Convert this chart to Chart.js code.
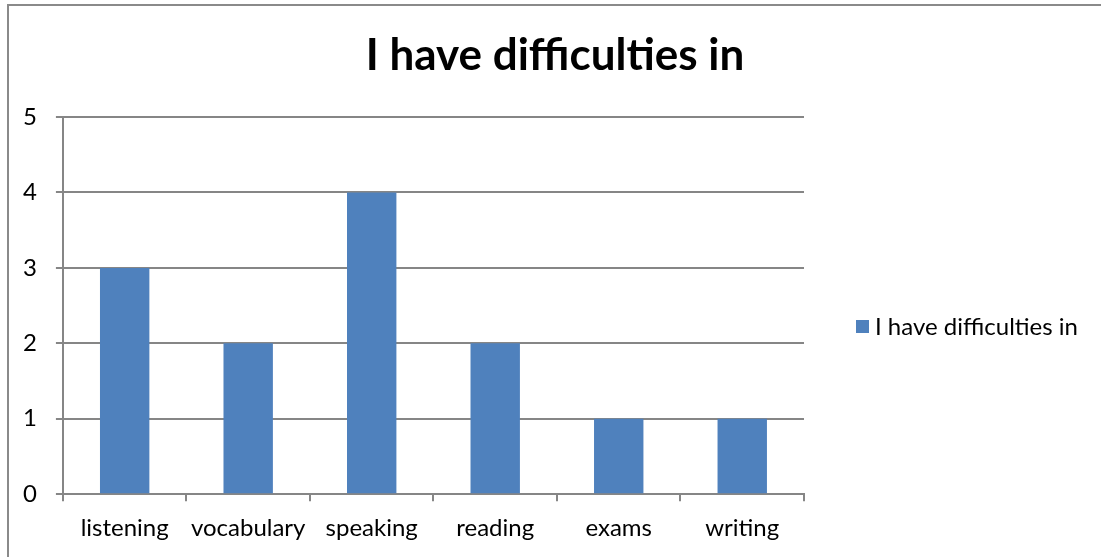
<!DOCTYPE html>
<html>
<head>
<meta charset="utf-8">
<script src="https://cdn.jsdelivr.net/npm/chart.js@4.4.0/dist/chart.umd.min.js"></script>
<style>
  html, body { margin: 0; padding: 0; background: #fff; }
  #wrap { width: 1101px; height: 557px; position: relative; }
</style>
</head>
<body>
<div id="wrap"><canvas id="difficultyChart" width="1101" height="557"></canvas></div>
<script>
const categories = ["listening", "vocabulary", "speaking", "reading", "exams", "writing"];
const counts = [3, 2, 4, 2, 1, 1];
const yTicks = [0, 1, 2, 3, 4, 5];
const seriesName = "I have difficulties in";

const barColor = "#4F81BD";
const lineColor = "#868686";
const fontFamily = "Lato, 'Open Sans', sans-serif";

// frame around the whole chart (open at right/bottom edge of the window)
const framePlugin = {
  id: "frame",
  beforeDraw(chart) {
    const ctx = chart.ctx;
    ctx.save();
    ctx.strokeStyle = "#8a8a8a";
    ctx.lineWidth = 2;
    ctx.strokeRect(8, 5, chart.width + 20, chart.height + 20);
    ctx.restore();
  }
};

// big bold heading, centred over the whole chart box
const headingPlugin = {
  id: "heading",
  afterDraw(chart) {
    const ctx = chart.ctx;
    ctx.save();
    ctx.fillStyle = "#000";
    ctx.font = "bold 44px " + fontFamily;
    ctx.textAlign = "center";
    ctx.textBaseline = "middle";
    ctx.fillText(seriesName, 555, 56);
    ctx.restore();
  }
};

// single-entry legend on the right side
const sideLegend = {
  id: "sideLegend",
  afterDraw(chart) {
    const ctx = chart.ctx;
    const area = chart.chartArea;
    const ds = chart.data.datasets[0];
    const x = area.right + 52;
    const y = 326;
    ctx.save();
    ctx.fillStyle = ds.backgroundColor;
    ctx.fillRect(x, y - 6, 13, 13);
    ctx.fillStyle = "#000";
    ctx.font = "24px " + fontFamily;
    ctx.textBaseline = "middle";
    ctx.fillText(ds.label, x + 19, y + 1);
    ctx.restore();
  }
};

new Chart(document.getElementById("difficultyChart"), {
  type: "bar",
  data: {
    labels: categories,
    datasets: [{
      label: seriesName,
      data: counts,
      backgroundColor: barColor,
      borderWidth: 0,
      categoryPercentage: 1,
      barPercentage: 0.4
    }]
  },
  options: {
    responsive: false,
    animation: false,
    devicePixelRatio: 1,
    layout: { padding: { left: 4, right: 297, top: 117, bottom: 1 } },
    plugins: {
      legend: { display: false },
      tooltip: { enabled: false },
      title: { display: false }
    },
    scales: {
      x: {
        offset: true,
        grid: {
          offset: true,
          drawOnChartArea: false,
          drawTicks: true,
          tickLength: 7,
          color: lineColor,
          lineWidth: 2
        },
        border: { color: lineColor, width: 2 },
        ticks: {
          color: "#000",
          font: { family: fontFamily, size: 24 },
          padding: 13,
          maxRotation: 0,
          minRotation: 0,
          autoSkip: false
        }
      },
      y: {
        min: 0,
        max: 5,
        afterBuildTicks(scale) {
          scale.ticks = yTicks.map(v => ({ value: v }));
        },
        grid: { color: lineColor, lineWidth: 2, tickLength: 7 },
        border: { color: lineColor, width: 2 },
        ticks: { color: "#000", font: { family: fontFamily, size: 24 }, padding: 19 }
      }
    }
  },
  plugins: [framePlugin, headingPlugin, sideLegend]
});
</script>
</body>
</html>
